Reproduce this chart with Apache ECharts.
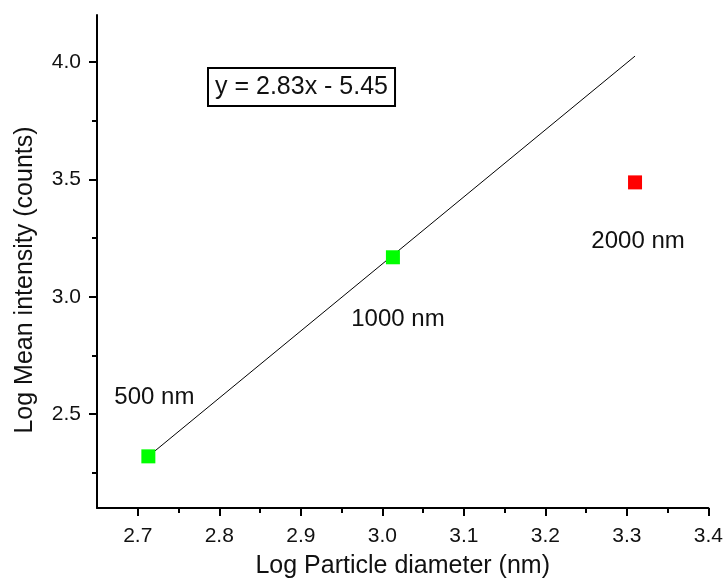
<!DOCTYPE html>
<html>
<head>
<meta charset="utf-8">
<script src="https://cdn.jsdelivr.net/npm/echarts@6/dist/echarts.min.js"></script>
<style>
  html, body { margin: 0; padding: 0; background: #fff; }
  #container { width: 726px; height: 585px; }
</style>
</head>
<body>
<div id="container"></div>
<script>
var dom = document.getElementById('container');
var myChart = echarts.init(dom, null, { renderer: 'canvas' });

// measured points (log10 of diameter, log10 of mean intensity)
let sizeNames = ['500 nm', '1000 nm', '2000 nm'];
let logDiameter = [2.713, 3.013, 3.31];
let logIntensity = [2.32, 3.168, 3.487];
let pointColors = ['#00ff00', '#00ff00', '#ff0000'];
// label offsets relative to each marker
let labelOffsets = [[6, -59], [5, 62], [3, 59]];

// fitted line end points
let fitX = [2.713, 3.31];
let fitY = [2.32, 4.025];
let fitText = 'y = 2.83x - 5.45';

let xMajor = [2.7, 2.8, 2.9, 3.0, 3.1, 3.2, 3.3, 3.4];
let xMinor = [2.75, 2.85, 2.95, 3.05, 3.15, 3.25, 3.35];
let yMajor = [2.5, 3.0, 3.5, 4.0];
let yMinor = [2.25, 2.75, 3.25, 3.75];

var font = '"Liberation Sans", Arial, sans-serif';

var points = logDiameter.map(function (x, i) {
    return {
        value: [x, logIntensity[i]],
        itemStyle: { color: pointColors[i], opacity: 1 },
        label: {
            show: true,
            position: 'inside',
            offset: labelOffsets[i],
            formatter: sizeNames[i],
            color: '#111',
            fontSize: 24,
            fontFamily: font
        }
    };
});

var axisCommon = {
    type: 'value',
    splitLine: { show: false },
    axisLine: { show: true, onZero: false, lineStyle: { color: '#000', width: 2 } }
};

var option = {
    backgroundColor: '#fff',
    animation: false,
    grid: { left: 97, right: 17, top: 15, bottom: 77 },
    xAxis: [
        Object.assign({}, axisCommon, {
            min: 2.65, max: 3.4,
            position: 'bottom',
            name: 'Log Particle diameter (nm)',
            nameLocation: 'middle',
            nameGap: 46,
            nameTextStyle: { fontSize: 25, color: '#111', fontFamily: font },
            axisTick: { show: true, inside: false, length: 8, lineStyle: { color: '#000', width: 2 }, customValues: xMajor },
            axisLabel: { show: true, margin: 18, fontSize: 21, color: '#111', fontFamily: font, customValues: xMajor,
                formatter: function (v) { return v.toFixed(1); } }
        }),
        Object.assign({}, axisCommon, {
            min: 2.65, max: 3.4,
            position: 'bottom',
            axisLine: { show: false },
            axisTick: { show: true, inside: false, length: 5, lineStyle: { color: '#000', width: 2 }, customValues: xMinor },
            axisLabel: { show: false }
        })
    ],
    yAxis: [
        Object.assign({}, axisCommon, {
            min: 2.1, max: 4.2,
            position: 'left',
            axisTick: { show: true, inside: false, length: 8, lineStyle: { color: '#000', width: 2 }, customValues: yMajor },
            axisLabel: { show: true, margin: 16, fontSize: 21, color: '#111', fontFamily: font, customValues: yMajor,
                formatter: function (v) { return v.toFixed(1); } }
        }),
        Object.assign({}, axisCommon, {
            min: 2.1, max: 4.2,
            position: 'left',
            axisLine: { show: false },
            axisTick: { show: true, inside: false, length: 5, lineStyle: { color: '#000', width: 2 }, customValues: yMinor },
            axisLabel: { show: false }
        })
    ],
    graphic: [
        {
            type: 'text',
            x: 25, y: 280,
            rotation: Math.PI / 2,
            style: {
                text: 'Log Mean intensity (counts)',
                fill: '#111',
                font: '25px ' + font,
                align: 'center',
                verticalAlign: 'middle'
            }
        },
        {
            type: 'text',
            x: 209, y: 69,
            style: {
                text: fitText,
                fill: '#111',
                font: '25px ' + font,
                backgroundColor: '#fff',
                borderColor: '#000',
                borderWidth: 2,
                padding: [6, 6, 5, 6]
            }
        }
    ],
    series: [
        {
            type: 'line',
            data: fitX.map(function (x, i) { return [x, fitY[i]]; }),
            symbol: 'none',
            lineStyle: { color: '#000', width: 1 },
            silent: true
        },
        {
            type: 'scatter',
            symbol: 'rect',
            symbolSize: 14,
            data: points,
            z: 3
        }
    ]
};

myChart.setOption(option);
window.addEventListener('resize', myChart.resize);
</script>
</body>
</html>
